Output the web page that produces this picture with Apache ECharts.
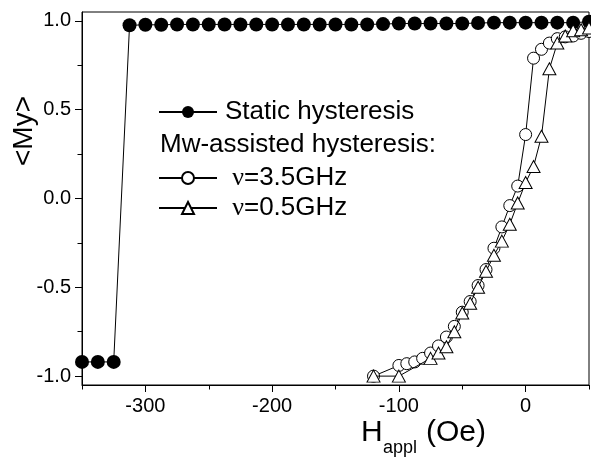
<!DOCTYPE html>
<html>
<head>
<meta charset="utf-8">
<script src="https://cdn.jsdelivr.net/npm/echarts@6/dist/echarts.min.js"></script>
<style>
  html, body { margin: 0; padding: 0; background: #fff; }
  #chart { width: 591px; height: 459px; }
</style>
</head>
<body>
<div id="chart"></div>
<script>
// static hysteresis (filled circles)
var staticH = [-350, -337.5, -325, -312.5, -300, -287.5, -275, -262.5, -250, -237.5, -225, -212.5, -200, -187.5, -175, -162.5, -150, -137.5, -125, -112.5, -100, -87.5, -75, -62.5, -50, -37.5, -25, -12.5, 0, 12.5, 25, 37.5, 50];
var staticM = [-0.92, -0.92, -0.92, 0.975, 0.978, 0.978, 0.98, 0.98, 0.98, 0.98, 0.98, 0.98, 0.98, 0.98, 0.98, 0.98, 0.98, 0.98, 0.98, 0.982, 0.985, 0.985, 0.985, 0.985, 0.985, 0.988, 0.99, 0.99, 0.99, 0.99, 0.99, 0.99, 0.995];

// mw-assisted, 3.5 GHz (open circles)
var h35 = [-120, -100, -93.75, -87.5, -81.25, -75, -68.75, -62.5, -56.25, -50, -43.75, -37.5, -31.25, -25, -18.75, -12.5, -6.25, 0, 6.25, 12.5, 18.75, 25, 31.25, 37.5, 43.75, 50];
var m35 = [-1.0, -0.94, -0.93, -0.92, -0.90, -0.87, -0.83, -0.78, -0.72, -0.64, -0.58, -0.49, -0.40, -0.28, -0.16, -0.04, 0.07, 0.36, 0.79, 0.84, 0.875, 0.90, 0.91, 0.915, 0.93, 0.94];

// mw-assisted, 0.5 GHz (open triangles)
var h05 = [-120, -100, -75, -68.75, -62.5, -56.25, -50, -43.75, -37.5, -31.25, -25, -18.75, -12.5, -6.25, 0, 6.25, 12.5, 18.75, 25, 31.25, 37.5, 43.75, 50];
var m05 = [-1.0, -1.0, -0.90, -0.87, -0.835, -0.75, -0.645, -0.59, -0.50, -0.41, -0.32, -0.24, -0.145, -0.025, 0.09, 0.18, 0.35, 0.73, 0.875, 0.915, 0.945, 0.95, 0.96];

// axis ticks
var xMajor = [-300, -200, -100, 0];
var xMinor = [-350, -250, -150, -50, 50];
var yMajor = [-1, -0.5, 0, 0.5, 1];
var yMinor = [-0.75, -0.25, 0.25, 0.75];

var FONT = 'Liberation Sans';

function pairs(xs, ys) {
  return xs.map(function (x, i) { return [x, ys[i]]; });
}

var chart = echarts.init(document.getElementById('chart'));

var option = {
  animation: false,
  grid: {
    left: 82, right: 2, top: 12, bottom: 74,
    show: true, borderColor: '#000', borderWidth: 1,
    outerBoundsMode: 'none'
  },
  xAxis: [
    {
      type: 'value', min: -350, max: 50,
      axisLine: { onZero: false, lineStyle: { color: '#000', width: 1 } },
      axisTick: { customValues: xMajor, length: 7, lineStyle: { color: '#000' } },
      axisLabel: { customValues: xMajor, color: '#000', fontSize: 20, fontFamily: FONT, margin: 11 },
      splitLine: { show: false }
    },
    {
      type: 'value', min: -350, max: 50, position: 'bottom',
      axisLine: { show: false, onZero: false },
      axisTick: { customValues: xMinor, length: 4.5, lineStyle: { color: '#000' } },
      axisLabel: { show: false },
      splitLine: { show: false }
    }
  ],
  yAxis: [
    {
      type: 'value', min: -1.05, max: 1.05,
      axisLine: { show: true, onZero: false, lineStyle: { color: '#000', width: 1 } },
      axisTick: { show: true, customValues: yMajor, length: 7, lineStyle: { color: '#000' } },
      axisLabel: {
        customValues: yMajor, color: '#000', fontSize: 20, fontFamily: FONT, margin: 11,
        formatter: function (v) { return v.toFixed(1); }
      },
      splitLine: { show: false }
    },
    {
      type: 'value', min: -1.05, max: 1.05, position: 'left',
      axisLine: { show: false, onZero: false },
      axisTick: { show: true, customValues: yMinor, length: 4.5, lineStyle: { color: '#000' } },
      axisLabel: { show: false },
      splitLine: { show: false }
    }
  ],
  legend: [
    {
      data: ['Static hysteresis'],
      left: 158, top: 99, orient: 'vertical', padding: 0,
      itemWidth: 58, itemHeight: 15, selectedMode: false,
      textStyle: { fontSize: 26, color: '#000', fontFamily: FONT, padding: [0, 0, 0, 3] }
    },
    {
      data: ['ν=3.5GHz', 'ν=0.5GHz'],
      left: 158, top: 165, orient: 'vertical', padding: 0, itemGap: 4,
      itemWidth: 58, itemHeight: 15, selectedMode: false,
      formatter: function (name) { return ' {nu|ν}' + name.slice(1); },
      textStyle: {
        fontSize: 26, color: '#000', fontFamily: FONT, padding: [0, 0, 0, 3],
        rich: { nu: { fontSize: 26, fontFamily: 'Liberation Serif', color: '#000' } }
      }
    }
  ],
  graphic: [
    {
      type: 'text', x: 160, y: 145,
      style: { text: 'Mw-assisted hysteresis:', fill: '#000', fontSize: 26, fontFamily: FONT, align: 'left', verticalAlign: 'middle' }
    },
    {
      type: 'text', x: 24, y: 131, rotation: Math.PI / 2,
      style: { text: '<My>', fill: '#000', fontSize: 28, fontFamily: FONT, align: 'center', verticalAlign: 'middle' }
    },
    {
      type: 'text', x: 361, y: 433,
      style: { text: 'H', fill: '#000', fontSize: 30, fontFamily: FONT, align: 'left', verticalAlign: 'middle' }
    },
    {
      type: 'text', x: 383, y: 448,
      style: { text: 'appl', fill: '#000', fontSize: 18, fontFamily: FONT, align: 'left', verticalAlign: 'middle' }
    },
    {
      type: 'text', x: 426, y: 433,
      style: { text: '(Oe)', fill: '#000', fontSize: 30, fontFamily: FONT, align: 'left', verticalAlign: 'middle' }
    }
  ],
  series: [
    {
      name: 'Static hysteresis', type: 'line',
      data: pairs(staticH, staticM),
      symbol: 'circle', symbolSize: 14,
      itemStyle: { color: '#000' },
      lineStyle: { color: '#000', width: 1 },
      z: 2
    },
    {
      name: 'ν=3.5GHz', type: 'line',
      data: pairs(h35, m35),
      symbol: 'circle', symbolSize: 12,
      itemStyle: { color: '#fff', borderColor: '#000', borderWidth: 1 },
      lineStyle: { color: '#000', width: 1 },
      z: 3
    },
    {
      name: 'ν=0.5GHz', type: 'line',
      data: pairs(h05, m05),
      symbol: 'triangle', symbolSize: [13, 12],
      itemStyle: { color: '#fff', borderColor: '#000', borderWidth: 1 },
      lineStyle: { color: '#000', width: 1 },
      z: 4
    }
  ]
};

chart.setOption(option);
</script>
</body>
</html>
